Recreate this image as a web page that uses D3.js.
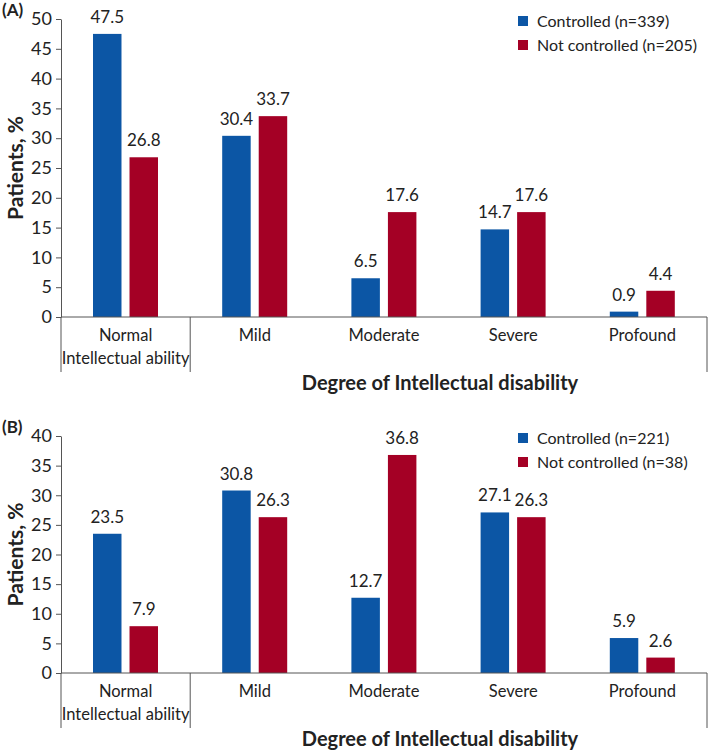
<!DOCTYPE html>
<html><head><meta charset="utf-8">
<script src="https://cdn.jsdelivr.net/npm/d3@7"></script>
<style>
body{margin:0;background:#fff;}
text{font-family:Lato,"Open Sans",sans-serif;fill:#222;}
</style></head>
<body><svg id="c" width="709" height="752"></svg>
<script>
const categories = ["Normal\nIntellectual ability","Mild","Moderate","Severe","Profound"];
const seriesNames = ["Controlled","Not controlled"];
const colors = ["#0c56a5","#a40025"];
const panelALabels = ["Controlled (n=339)","Not controlled (n=205)"];
const panelAControlled = [47.5,30.4,6.5,14.7,0.9];
const panelANotControlled = [26.8,33.7,17.6,17.6,4.4];
const panelATicks = [0,5,10,15,20,25,30,35,40,45,50];
const panelBLabels = ["Controlled (n=221)","Not controlled (n=38)"];
const panelBControlled = [23.5,30.8,12.7,27.1,5.9];
const panelBNotControlled = [7.9,26.3,36.8,26.3,2.6];
const panelBTicks = [0,5,10,15,20,25,30,35,40];

const svg = d3.select("#c");
const left = 61, right = 707;

function panel(tag, top, bottom, ticks, vals, labels){
  const g = svg.append("g");
  const y = d3.scaleLinear().domain([0, d3.max(ticks)]).range([bottom, top]);
  const x0 = d3.scaleBand().domain(categories).range([left, right]);
  const x1 = d3.scaleBand().domain(seriesNames).range([32, 97]).paddingInner(0.22);

  const ya = g.append("g").attr("transform",`translate(${left},0)`)
    .call(d3.axisLeft(y).tickValues(ticks).tickSize(5).tickSizeOuter(0).tickPadding(4));
  ya.select(".domain").attr("stroke","#555");
  ya.selectAll(".tick line").attr("stroke","#555");
  ya.selectAll(".tick text").attr("font-size",18).attr("fill","#222").attr("font-family","Lato");

  categories.forEach((c,i)=>{
    seriesNames.forEach((s,j)=>{
      const v = vals[j][i];
      const bx = x0(c)+x1(s);
      g.append("rect").attr("x",bx).attr("y",y(v)).attr("width",x1.bandwidth())
        .attr("height",bottom-y(v)).attr("fill",colors[j]);
      g.append("text").attr("x",bx+x1.bandwidth()/2).attr("y",y(v)-11)
        .attr("text-anchor","middle").attr("font-size",17).text(v.toFixed(1));
    });
  });

  g.append("line").attr("x1",left).attr("x2",right).attr("y1",bottom).attr("y2",bottom)
    .attr("stroke","#555");
  [left, x0(categories[1]), right].forEach(sx=>{
    g.append("line").attr("x1",sx).attr("x2",sx).attr("y1",bottom).attr("y2",bottom+55)
      .attr("stroke","#555");
  });
  categories.forEach(c=>{
    const lines = c.split("\n");
    lines.forEach((l,k)=>{
      g.append("text").attr("x",x0(c)+x0.bandwidth()/2).attr("y",bottom+24+k*23)
        .attr("text-anchor","middle").attr("font-size",16.5).text(l);
    });
  });
  g.append("text").attr("x",440).attr("y",bottom+73).attr("text-anchor","middle")
    .attr("font-size",20).attr("font-weight","bold").text("Degree of Intellectual disability");
  g.append("text").attr("transform",`translate(23,${(top+bottom)/2}) rotate(-90)`)
    .attr("text-anchor","middle").attr("font-size",21).attr("font-weight","bold").text("Patients, %");
  g.append("text").attr("x",2).attr("y",top-3).attr("font-size",17).attr("font-weight","bold").text(tag);
  labels.forEach((l,k)=>{
    const ly = top + 2 + k*24;
    g.append("rect").attr("x",518).attr("y",ly-5).attr("width",10).attr("height",10).attr("fill",colors[k]);
    g.append("text").attr("x",537).attr("y",ly+6).attr("font-size",16).text(l);
  });
}
panel("(A)", 19, 317, panelATicks, [panelAControlled, panelANotControlled], panelALabels);
panel("(B)", 436, 673, panelBTicks, [panelBControlled, panelBNotControlled], panelBLabels);
</script></body></html>
